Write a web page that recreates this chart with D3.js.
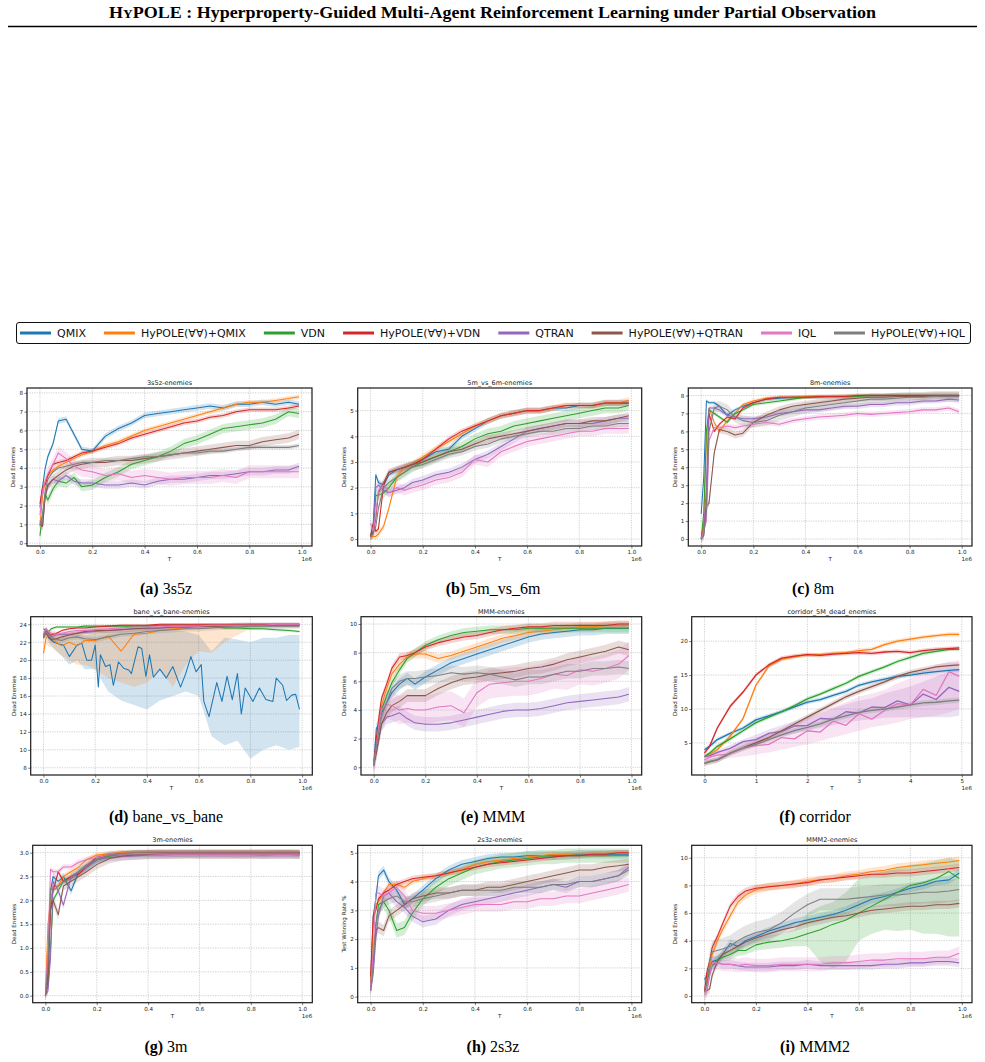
<!DOCTYPE html>
<html>
<head>
<meta charset="utf-8">
<script src="https://cdn.jsdelivr.net/npm/d3@7"></script>
<style>
  body { margin: 0; background: #fff; }
  svg { display: block; }
</style>
</head>
<body>
<div id="fig"></div>
<script>
// ---------------------------------------------------------
// DATA
// ---------------------------------------------------------
const methods = ["QMIX", "HyPOLE(∀∀)+QMIX", "VDN", "HyPOLE(∀∀)+VDN",
                 "QTRAN", "HyPOLE(∀∀)+QTRAN", "IQL", "HyPOLE(∀∀)+IQL"];
const colors  = ["#1f77b4", "#ff7f0e", "#2ca02c", "#d62728",
                 "#9467bd", "#8c564b", "#e377c2", "#7f7f7f"];

// training steps (x 1e6)
const T  = [0, 0.01, 0.02, 0.03, 0.05, 0.07, 0.1, 0.13, 0.16, 0.2, 0.25, 0.3, 0.35,
            0.4, 0.45, 0.5, 0.55, 0.6, 0.65, 0.7, 0.75, 0.8, 0.85, 0.9, 0.95, 0.99];
const T5 = [0, 0.1, 0.25, 0.5, 0.75, 1.0, 1.25, 1.5, 1.75, 2.0, 2.25, 2.5, 2.75,
            3.0, 3.25, 3.5, 3.75, 4.0, 4.25, 4.5, 4.75, 4.95];

// (a) 3s5z
const s3s5z = [
  [1.9, 3.0, 4.0, 4.6, 5.3, 6.5, 6.6, 5.8, 5.0, 4.9, 5.7, 6.1, 6.4, 6.8, 6.9, 7.0, 7.1, 7.2, 7.3, 7.2, 7.4, 7.4, 7.5, 7.4, 7.5, 7.4],
  [0.9, 2.5, 3.3, 3.6, 3.9, 4.1, 4.3, 4.5, 4.7, 4.9, 5.2, 5.4, 5.7, 6.0, 6.2, 6.4, 6.6, 6.8, 7.0, 7.2, 7.4, 7.5, 7.5, 7.6, 7.7, 7.8],
  [0.4, 1.5, 2.6, 2.3, 2.9, 3.3, 3.2, 3.5, 3.0, 3.1, 3.5, 3.8, 4.2, 4.4, 4.6, 4.9, 5.3, 5.5, 5.8, 6.1, 6.2, 6.3, 6.4, 6.6, 7.0, 6.9],
  [2.1, 3.0, 3.1, 3.6, 4.2, 4.3, 4.4, 4.6, 4.8, 4.9, 5.1, 5.3, 5.6, 5.8, 6.0, 6.2, 6.4, 6.5, 6.7, 6.8, 7.0, 7.1, 7.1, 7.1, 7.2, 7.3],
  [1.2, 0.9, 2.5, 3.0, 3.4, 3.3, 3.6, 3.3, 3.2, 3.2, 3.1, 3.1, 3.2, 3.1, 3.3, 3.4, 3.4, 3.5, 3.6, 3.6, 3.7, 3.8, 3.8, 3.9, 3.9, 4.1],
  [1.0, 0.9, 2.5, 3.1, 3.4, 3.6, 3.9, 4.1, 4.2, 4.3, 4.3, 4.4, 4.4, 4.5, 4.6, 4.7, 4.8, 4.9, 5.0, 5.1, 5.2, 5.2, 5.4, 5.5, 5.6, 5.8],
  [1.5, 2.8, 3.3, 3.7, 4.2, 4.8, 4.5, 4.1, 3.9, 3.8, 3.6, 3.7, 3.5, 3.6, 3.5, 3.4, 3.5, 3.5, 3.5, 3.6, 3.5, 3.8, 3.8, 3.8, 3.8, 3.8],
  [1.0, 1.5, 2.8, 3.4, 3.8, 4.0, 4.1, 4.2, 4.3, 4.3, 4.4, 4.4, 4.5, 4.6, 4.6, 4.7, 4.8, 4.8, 4.9, 4.9, 5.0, 5.1, 5.1, 5.1, 5.1, 5.2]
];
const spread3s5z = [0.15, 0.12, 0.25, 0.12, 0.2, 0.25, 0.35, 0.12];

// (b) 5m_vs_6m
const s5m6m = [
  [0.1, 0.6, 2.5, 2.2, 2.1, 2.5, 2.7, 2.8, 2.9, 3.1, 3.4, 3.5, 4.0, 4.3, 4.6, 4.8, 4.9, 5.0, 5.0, 5.1, 5.1, 5.2, 5.2, 5.3, 5.3, 5.3],
  [0.1, 0.1, 0.1, 0.2, 0.5, 1.2, 2.4, 2.8, 2.9, 3.2, 3.5, 3.8, 4.1, 4.4, 4.6, 4.8, 4.9, 5.0, 5.0, 5.1, 5.2, 5.2, 5.2, 5.3, 5.3, 5.4],
  [0.1, 0.3, 1.7, 1.7, 1.8, 2.0, 2.4, 2.6, 2.8, 3.0, 3.2, 3.4, 3.6, 3.9, 4.1, 4.2, 4.4, 4.5, 4.6, 4.7, 4.8, 4.9, 5.0, 5.1, 5.1, 5.2],
  [0.1, 0.6, 0.3, 0.4, 2.1, 2.6, 2.7, 2.8, 2.9, 3.1, 3.5, 3.9, 4.2, 4.4, 4.6, 4.8, 4.9, 5.0, 5.0, 5.1, 5.2, 5.2, 5.2, 5.3, 5.3, 5.3],
  [0.1, 0.2, 2.0, 2.1, 1.9, 1.8, 1.9, 2.0, 2.2, 2.3, 2.5, 2.6, 2.8, 3.1, 3.3, 3.6, 3.9, 4.2, 4.3, 4.4, 4.5, 4.5, 4.5, 4.6, 4.7, 4.7],
  [0.1, 0.3, 0.8, 1.8, 2.2, 2.6, 2.7, 2.8, 2.9, 3.0, 3.2, 3.4, 3.5, 3.7, 3.9, 4.0, 4.1, 4.2, 4.3, 4.4, 4.5, 4.5, 4.6, 4.6, 4.7, 4.8],
  [0.6, 0.3, 1.0, 1.9, 2.1, 1.8, 2.0, 1.9, 2.0, 2.1, 2.3, 2.4, 2.6, 3.1, 3.0, 3.4, 3.6, 3.8, 3.9, 4.0, 4.1, 4.2, 4.2, 4.3, 4.3, 4.3],
  [0.1, 0.2, 0.5, 1.2, 2.0, 2.2, 2.4, 2.6, 2.8, 2.9, 3.1, 3.3, 3.4, 3.6, 3.7, 3.9, 4.0, 4.1, 4.2, 4.2, 4.3, 4.3, 4.4, 4.4, 4.5, 4.5]
];
const spread5m6m = [0.12, 0.12, 0.2, 0.1, 0.15, 0.15, 0.2, 0.15];

// (c) 8m
const s8m = [
  [1.4, 3.5, 7.7, 7.6, 7.6, 7.4, 6.9, 7.2, 7.4, 7.6, 7.8, 7.85, 7.9, 7.9, 7.95, 7.95, 7.95, 8.0, 8.0, 8.0, 8.0, 8.0, 8.0, 8.0, 8.0, 8.0],
  [0.0, 1.0, 5.5, 7.3, 6.5, 6.0, 6.6, 7.0, 7.5, 7.7, 7.85, 7.9, 7.9, 7.95, 7.95, 7.95, 8.0, 8.0, 8.0, 8.0, 8.0, 8.0, 8.0, 8.0, 8.0, 8.0],
  [0.0, 1.5, 6.0, 7.2, 7.0, 6.8, 6.5, 7.0, 7.2, 7.5, 7.6, 7.7, 7.8, 7.9, 7.9, 7.95, 7.95, 7.95, 8.0, 8.0, 8.0, 8.0, 8.0, 8.0, 8.0, 8.0],
  [0.0, 0.6, 2.0, 7.0, 6.0, 6.4, 6.8, 6.7, 7.3, 7.6, 7.8, 7.9, 7.9, 7.9, 7.95, 7.95, 7.95, 8.0, 8.0, 8.0, 8.0, 8.0, 8.0, 8.0, 8.0, 8.0],
  [0.0, 0.4, 3.0, 7.3, 7.3, 7.2, 6.9, 6.8, 6.7, 6.7, 6.8, 7.0, 7.1, 7.2, 7.2, 7.3, 7.4, 7.4, 7.5, 7.5, 7.6, 7.6, 7.7, 7.7, 7.8, 7.75],
  [0.0, 0.2, 1.8, 2.0, 4.8, 6.1, 6.0, 5.8, 5.9, 6.5, 6.9, 7.2, 7.4, 7.5, 7.6, 7.7, 7.8, 7.85, 7.9, 7.9, 7.95, 7.95, 7.95, 8.0, 8.0, 8.0],
  [0.0, 0.5, 1.0, 5.5, 6.2, 6.2, 6.3, 6.2, 6.3, 6.4, 6.5, 6.4, 6.6, 6.7, 6.8, 6.85, 6.9, 7.0, 6.95, 7.0, 7.05, 7.1, 7.2, 7.2, 7.3, 7.1],
  [0.0, 0.3, 1.5, 6.0, 7.3, 7.4, 7.2, 6.8, 6.6, 6.5, 6.6, 6.9, 7.1, 7.3, 7.4, 7.5, 7.6, 7.7, 7.8, 7.8, 7.85, 7.9, 7.9, 7.95, 7.95, 7.95]
];
const spread8m = [0.1, 0.1, 0.1, 0.1, 0.15, 0.2, 0.15, 0.3];

// (d) bane_vs_bane  (QMIX is logged more densely)
const baneQmixT = [0, 0.01, 0.02, 0.04, 0.06, 0.077, 0.1, 0.13, 0.148, 0.167, 0.186, 0.2, 0.212, 0.22, 0.24,
                   0.257, 0.27, 0.29, 0.31, 0.33, 0.34, 0.366, 0.38, 0.396, 0.41, 0.425, 0.45, 0.475, 0.5,
                   0.53, 0.55, 0.57, 0.59, 0.61, 0.62, 0.64, 0.67, 0.69, 0.71, 0.73, 0.75, 0.765, 0.78,
                   0.81, 0.835, 0.86, 0.887, 0.9, 0.925, 0.94, 0.96, 0.975, 0.99];
const baneQmix  = [22.8, 23.2, 22.5, 22.0, 21.8, 21.7, 20.4, 21.7, 21.9, 20.0, 20.0, 21.7, 17.0, 20.6, 19.3,
                   19.5, 17.2, 19.8, 19.1, 18.9, 18.5, 21.5, 21.3, 18.2, 20.6, 18.1, 19.0, 18.0, 19.3,
                   17.0, 18.5, 20.4, 18.7, 19.5, 15.4, 13.7, 17.5, 15.4, 18.2, 15.6, 18.5, 14.0, 16.9,
                   15.4, 16.9, 15.6, 15.4, 18.0, 17.2, 15.5, 16.1, 16.2, 14.5];
const baneQmixLo = [22.3, 22.6, 22.0, 21.6, 21.0, 20.5, 19.5, 20.0, 19.0, 19.0, 16.5, 15.5, 15.0, 14.5, 15.5, 16.0, 16.5, 16.0, 11.5, 10.5, 11.0, 9.0, 10.0, 10.5, 10.0, 10.3];
const baneQmixHi = [23.3, 23.7, 23.2, 22.6, 22.5, 22.6, 22.5, 22.8, 22.8, 23.0, 23.2, 23.2, 23.3, 23.3, 23.4, 23.4, 23.2, 22.8, 21.0, 22.5, 22.3, 22.0, 22.5, 22.5, 22.8, 22.8];
const baneHyQmixLo = [20.0, 21.8, 21.5, 21.5, 21.0, 20.5, 20.0, 19.5, 19.5, 19.0, 18.0, 17.5, 17.0, 17.5, 19.0, 17.0, 19.5, 21.0, 20.8, 22.0, 22.8, 23.5, 23.7, 23.8, 23.8, 23.8];
const baneHyQmixHi = [21.8, 23.3, 23.3, 23.3, 23.2, 23.0, 23.2, 23.2, 23.4, 23.5, 23.7, 23.8, 23.8, 23.9, 24.0, 24.0, 24.0, 24.0, 24.0, 24.0, 24.0, 24.1, 24.1, 24.1, 24.1, 24.1];
const sBane = [
  null,
  [20.8, 22.5, 22.8, 22.4, 22.0, 21.6, 22.0, 21.6, 22.2, 22.2, 22.7, 21.0, 22.9, 23.0, 23.3, 23.5, 23.6, 23.7, 23.8, 23.9, 23.9, 24.0, 24.0, 24.0, 24.0, 24.0],
  [23.5, 23.3, 23.2, 23.5, 23.7, 23.7, 23.7, 23.7, 23.8, 23.8, 23.8, 23.8, 23.8, 23.8, 23.9, 23.9, 23.9, 23.8, 23.8, 23.6, 23.6, 23.5, 23.5, 23.4, 23.3, 23.2],
  [22.5, 23.4, 23.0, 22.8, 23.0, 23.3, 23.5, 23.6, 23.6, 23.7, 23.8, 23.9, 23.9, 23.9, 24.0, 24.0, 24.0, 24.0, 24.0, 24.0, 24.0, 24.0, 24.0, 24.0, 24.0, 24.0],
  [22.8, 23.5, 23.0, 22.6, 22.8, 22.9, 22.9, 23.0, 23.1, 23.2, 23.3, 23.4, 23.5, 23.5, 23.6, 23.7, 23.7, 23.8, 23.8, 23.8, 23.9, 23.9, 23.9, 23.9, 23.9, 23.9],
  [22.6, 23.0, 22.6, 22.3, 22.4, 22.6, 22.8, 23.0, 23.2, 23.3, 23.3, 23.4, 23.5, 23.6, 23.6, 23.7, 23.7, 23.8, 23.8, 23.8, 23.9, 23.9, 23.9, 23.9, 23.9, 23.9],
  [23.0, 23.5, 23.2, 23.0, 22.9, 23.0, 23.2, 23.3, 23.3, 23.4, 23.5, 23.6, 23.7, 23.7, 23.7, 23.8, 23.8, 23.8, 23.9, 23.9, 23.9, 23.9, 23.9, 24.0, 24.0, 24.0],
  [22.5, 23.2, 22.8, 22.5, 22.3, 22.2, 22.5, 22.6, 22.4, 22.3, 22.6, 22.9, 23.0, 23.2, 23.3, 23.4, 23.5, 23.5, 23.6, 23.7, 23.7, 23.8, 23.8, 23.8, 23.8, 23.8]
];
const spreadBane = [0, 0, 0.15, 0.1, 0.2, 0.3, 0.2, 0.3];

// (e) MMM
const sMMM = [
  [0.3, 2.7, 3.0, 3.8, 4.5, 5.2, 5.8, 6.2, 5.8, 6.3, 6.8, 7.3, 7.6, 7.9, 8.2, 8.5, 8.8, 9.1, 9.3, 9.4, 9.5, 9.6, 9.6, 9.7, 9.7, 9.7],
  [0.2, 1.8, 3.0, 4.3, 5.5, 6.5, 7.2, 7.7, 7.9, 7.9, 7.6, 7.8, 8.1, 8.4, 8.7, 9.0, 9.2, 9.4, 9.5, 9.6, 9.7, 9.8, 9.8, 9.9, 9.9, 9.9],
  [0.1, 1.5, 3.0, 4.0, 5.0, 5.9, 6.8, 7.6, 8.0, 8.5, 8.9, 9.2, 9.4, 9.5, 9.6, 9.6, 9.6, 9.7, 9.7, 9.7, 9.7, 9.7, 9.7, 9.7, 9.7, 9.7],
  [0.2, 2.0, 3.5, 4.8, 5.8, 6.9, 7.7, 7.8, 8.0, 8.4, 8.7, 8.9, 9.1, 9.2, 9.4, 9.6, 9.7, 9.8, 9.8, 9.9, 9.9, 9.9, 9.9, 9.9, 10.0, 10.0],
  [0.1, 1.0, 2.0, 3.0, 3.5, 3.6, 3.8, 3.4, 3.1, 3.0, 3.0, 3.1, 3.3, 3.5, 3.7, 3.9, 4.0, 4.0, 4.1, 4.3, 4.5, 4.6, 4.7, 4.8, 4.9, 5.1],
  [0.2, 1.0, 2.0, 3.0, 3.8, 4.3, 4.6, 5.0, 5.0, 5.0, 5.5, 5.9, 6.2, 6.3, 6.5, 6.6, 6.7, 6.9, 7.0, 7.2, 7.5, 7.7, 7.9, 8.1, 8.4, 8.2],
  [0.2, 1.5, 3.0, 4.0, 4.4, 4.3, 4.0, 4.1, 4.0, 4.0, 4.2, 4.3, 3.8, 5.2, 5.8, 5.9, 6.0, 6.0, 6.2, 6.5, 6.4, 6.8, 6.7, 6.9, 7.2, 7.8],
  [0.2, 1.5, 2.5, 3.5, 4.5, 5.5, 6.0, 6.2, 6.2, 6.3, 6.4, 6.6, 6.5, 6.6, 6.5, 6.3, 6.1, 6.3, 6.3, 6.5, 6.7, 6.7, 6.9, 6.9, 7.0, 6.9]
];
const spreadMMM = [0.4, 0.3, 0.3, 0.25, 0.5, 0.45, 1.0, 0.5];

// (f) corridor (x 5e6 steps)
const sCorridor = [
  [4.0, 4.5, 5.5, 6.4, 7.2, 8.4, 9.0, 9.6, 10.3, 11.0, 11.4, 12.0, 12.6, 13.5, 14.0, 14.4, 14.8, 15.0, 15.3, 15.5, 15.7, 15.8],
  [3.0, 3.3, 4.0, 6.0, 8.6, 13.5, 16.3, 17.3, 17.7, 18.0, 18.0, 18.2, 18.3, 18.6, 18.8, 19.5, 20.0, 20.3, 20.6, 20.8, 21.0, 21.0],
  [3.0, 3.5, 4.5, 5.6, 6.8, 8.0, 8.8, 9.6, 10.5, 11.5, 12.2, 13.0, 13.8, 14.8, 15.5, 16.2, 17.0, 17.6, 18.2, 18.5, 18.8, 18.8],
  [3.5, 4.5, 7.2, 10.4, 12.5, 15.0, 16.5, 17.5, 17.8, 18.0, 17.9, 18.1, 18.2, 18.3, 18.2, 18.4, 18.5, 18.3, 18.6, 18.8, 18.9, 19.0],
  [3.0, 3.1, 3.6, 4.2, 5.2, 5.5, 6.4, 6.7, 7.5, 7.6, 8.6, 8.5, 9.6, 9.4, 10.3, 10.2, 11.2, 10.6, 12.2, 11.4, 13.2, 12.6],
  [2.0, 2.2, 2.5, 3.5, 4.3, 5.0, 5.8, 6.8, 7.8, 8.8, 9.8, 10.8, 11.8, 12.6, 13.3, 14.0, 14.8, 15.4, 15.8, 16.2, 16.4, 16.5],
  [2.5, 2.9, 3.2, 3.4, 4.3, 4.6, 4.8, 5.8, 5.6, 6.8, 6.6, 8.2, 7.6, 9.3, 8.5, 9.8, 10.8, 10.6, 12.9, 12.0, 15.5, 14.8],
  [2.0, 2.3, 2.5, 3.5, 4.2, 4.8, 5.5, 6.2, 6.8, 7.3, 7.8, 8.5, 9.0, 9.5, 9.8, 10.0, 10.3, 10.6, 10.9, 11.0, 11.2, 11.3]
];
const spreadCorridor = [0.3, 0.3, 0.3, 0.3, 0, 0.4, 0, 0.4];
const corrQtranLo = [2.8, 2.8, 3.2, 3.8, 4.5, 5.0, 5.5, 6.0, 6.4, 6.8, 7.2, 7.6, 8.0, 8.3, 8.5, 8.7, 8.8, 8.8, 8.8, 8.8, 8.8, 9.0];
const corrQtranHi = [3.2, 3.4, 3.9, 4.7, 5.5, 6.2, 7.0, 7.6, 8.2, 8.8, 9.5, 10.1, 10.7, 11.2, 11.6, 12.3, 12.8, 13.3, 14.0, 14.8, 15.5, 16.0];
const corrIqlLo = [2.2, 2.3, 2.5, 2.8, 3.0, 3.3, 3.6, 4.0, 4.4, 4.8, 5.3, 5.8, 6.3, 6.8, 7.3, 7.6, 8.0, 8.5, 8.8, 9.0, 9.5, 10.0];
const corrIqlHi = [2.8, 3.3, 3.6, 4.2, 5.0, 5.8, 6.5, 7.0, 7.8, 8.5, 9.3, 10.3, 11.0, 11.8, 12.3, 12.8, 13.8, 14.5, 15.5, 16.5, 17.0, 17.2];

// (g) 3m
const s3m = [
  [0, 0.5, 2.2, 2.5, 2.4, 2.5, 2.2, 2.6, 2.7, 2.85, 2.95, 2.97, 2.98, 2.98, 2.98, 2.98, 2.98, 2.98, 2.98, 2.98, 2.97, 2.98, 2.98, 2.98, 2.98, 2.97],
  [0, 1.5, 2.0, 2.3, 2.3, 2.5, 2.6, 2.7, 2.85, 2.95, 2.98, 3.0, 3.0, 3.0, 3.0, 3.0, 3.0, 3.0, 3.0, 3.0, 3.0, 3.0, 3.0, 3.0, 3.0, 3.0],
  [0, 0.2, 1.0, 2.0, 2.2, 2.4, 2.5, 2.6, 2.7, 2.85, 2.93, 2.97, 2.98, 2.98, 2.98, 2.97, 2.97, 2.97, 2.98, 2.97, 2.98, 2.97, 2.97, 2.98, 2.98, 2.98],
  [0, 0.5, 1.8, 2.2, 2.6, 2.4, 2.5, 2.55, 2.7, 2.9, 2.95, 2.98, 2.99, 3.0, 3.0, 3.0, 3.0, 3.0, 3.0, 3.0, 3.0, 3.0, 3.0, 3.0, 3.0, 3.0],
  [0, 0.1, 0.8, 2.4, 2.2, 1.9, 2.5, 2.6, 2.7, 2.85, 2.9, 2.92, 2.93, 2.95, 2.95, 2.96, 2.97, 2.96, 2.96, 2.96, 2.96, 2.96, 2.95, 2.96, 2.96, 2.95],
  [0, 0.3, 1.8, 2.0, 1.7, 2.3, 2.4, 2.5, 2.6, 2.75, 2.88, 2.93, 2.95, 2.96, 2.97, 2.97, 2.97, 2.97, 2.97, 2.97, 2.97, 2.97, 2.97, 2.97, 2.97, 2.97],
  [0, 1.0, 2.65, 2.6, 2.6, 2.7, 2.7, 2.8, 2.85, 2.9, 2.95, 2.97, 2.98, 2.98, 2.97, 2.97, 2.97, 2.97, 2.97, 2.97, 2.97, 2.97, 2.97, 2.97, 2.97, 2.97],
  [0, 0.7, 2.25, 2.2, 2.3, 2.4, 2.45, 2.6, 2.75, 2.85, 2.95, 2.98, 3.0, 3.0, 3.0, 3.0, 3.0, 3.0, 3.0, 3.0, 3.0, 3.0, 3.0, 3.0, 3.0, 3.0]
];
const spread3m = [0.08, 0.06, 0.06, 0.05, 0.08, 0.1, 0.06, 0.05];

// (h) 2s3z
const s2s3z = [
  [0.5, 2.8, 3.4, 4.2, 4.4, 4.0, 3.7, 3.2, 3.4, 3.7, 4.1, 4.4, 4.6, 4.7, 4.8, 4.85, 4.85, 4.9, 4.9, 4.9, 4.9, 4.95, 4.95, 4.95, 4.95, 4.95],
  [0.5, 2.5, 3.2, 3.3, 3.6, 3.9, 3.9, 3.8, 4.0, 4.1, 4.2, 4.3, 4.4, 4.6, 4.7, 4.75, 4.8, 4.85, 4.9, 4.95, 4.95, 4.97, 4.97, 4.98, 4.98, 4.98],
  [0.3, 1.0, 2.5, 3.2, 3.3, 3.0, 2.3, 2.4, 2.9, 3.4, 3.8, 4.1, 4.3, 4.5, 4.6, 4.7, 4.75, 4.8, 4.85, 4.85, 4.9, 4.9, 4.9, 4.9, 4.9, 4.9],
  [0.7, 2.8, 3.0, 3.4, 3.6, 3.7, 3.9, 4.0, 4.1, 4.15, 4.2, 4.3, 4.4, 4.5, 4.6, 4.65, 4.7, 4.75, 4.8, 4.85, 4.9, 4.9, 4.95, 4.95, 5.0, 5.0],
  [0.2, 0.8, 2.0, 2.8, 3.5, 3.6, 3.3, 3.1, 2.8, 2.6, 2.7, 3.0, 3.2, 3.3, 3.4, 3.5, 3.6, 3.7, 3.8, 3.9, 3.8, 4.0, 4.0, 4.1, 4.2, 4.5],
  [0.3, 1.5, 2.3, 2.4, 2.3, 2.8, 3.0, 3.2, 3.4, 3.5, 3.6, 3.6, 3.7, 3.7, 3.8, 3.8, 3.9, 4.0, 4.1, 4.2, 4.3, 4.4, 4.4, 4.5, 4.55, 4.6],
  [0.3, 1.5, 3.6, 3.6, 3.5, 3.6, 3.8, 3.5, 3.0, 2.9, 2.9, 3.0, 3.1, 3.2, 3.2, 3.2, 3.3, 3.3, 3.4, 3.4, 3.5, 3.5, 3.6, 3.7, 3.8, 3.9],
  [0.2, 1.0, 2.5, 3.0, 3.3, 3.4, 3.5, 3.3, 3.3, 3.4, 3.5, 3.6, 3.7, 3.7, 3.7, 3.7, 3.8, 3.8, 3.8, 3.9, 3.9, 4.0, 4.0, 4.1, 4.2, 4.4]
];
const spread2s3z = [0.15, 0.1, 0.25, 0.1, 0.2, 0.2, 0.25, 0.2];

// (i) MMM2
const sMMM2 = [
  [1.2, 1.5, 2.0, 2.5, 2.6, 3.0, 3.8, 3.6, 4.0, 4.3, 4.7, 5.0, 5.3, 5.5, 5.7, 5.9, 6.2, 6.6, 7.0, 7.2, 7.5, 7.8, 8.0, 8.3, 8.4, 8.9],
  [0.3, 1.2, 2.0, 3.0, 4.0, 4.8, 5.8, 6.8, 7.3, 7.7, 7.9, 8.0, 8.1, 8.3, 8.4, 8.5, 8.7, 8.8, 9.0, 9.1, 9.3, 9.4, 9.5, 9.6, 9.7, 9.8],
  [0.3, 1.0, 1.8, 2.2, 2.6, 2.8, 3.0, 3.3, 3.3, 3.7, 3.9, 4.0, 4.2, 4.5, 4.8, 5.2, 5.5, 6.0, 6.5, 7.0, 7.5, 8.0, 8.2, 8.5, 9.0, 8.5],
  [0.3, 1.8, 2.5, 3.5, 4.3, 5.2, 6.5, 7.2, 7.6, 7.8, 7.9, 8.0, 8.1, 8.2, 8.4, 8.5, 8.6, 8.7, 8.8, 8.8, 8.9, 8.9, 9.0, 9.1, 9.2, 9.3],
  [0.3, 0.5, 1.5, 2.2, 2.4, 2.3, 2.3, 2.2, 2.1, 2.1, 2.1, 2.2, 2.2, 2.3, 2.2, 2.2, 2.2, 2.2, 2.2, 2.3, 2.3, 2.4, 2.4, 2.5, 2.5, 2.4],
  [0.3, 0.4, 0.5, 1.5, 2.5, 3.0, 3.3, 3.6, 3.9, 4.2, 4.5, 4.8, 5.0, 5.3, 5.5, 5.7, 5.8, 6.0, 6.2, 6.3, 6.4, 6.5, 6.5, 6.6, 6.6, 6.7],
  [0.2, 0.5, 1.5, 2.4, 2.4, 2.3, 2.3, 2.2, 2.3, 2.2, 2.2, 2.3, 2.3, 2.3, 2.3, 2.4, 2.4, 2.5, 2.6, 2.6, 2.7, 2.7, 2.7, 2.8, 2.8, 3.1],
  [0.3, 1.0, 2.5, 3.2, 3.3, 3.4, 3.6, 4.0, 4.3, 4.6, 4.8, 5.3, 6.0, 6.6, 7.0, 7.0, 7.0, 7.1, 7.2, 7.3, 7.3, 7.4, 7.5, 7.5, 7.6, 7.7]
];
const spreadMMM2 = [0.3, 0.3, 0, 0.25, 0.3, 0.3, 0.5, 0.8];
const mmm2VdnLo = [0.2, 0.7, 1.5, 1.9, 2.2, 2.5, 2.6, 2.9, 3.0, 3.3, 3.4, 3.5, 3.6, 3.6, 2.5, 2.0, 2.5, 4.0, 4.5, 4.8, 4.7, 4.8, 4.5, 4.5, 4.3, 4.3];
const mmm2VdnHi = [0.4, 1.3, 2.1, 2.5, 3.0, 3.1, 3.4, 3.7, 3.7, 4.1, 4.4, 4.5, 4.8, 6.0, 6.5, 6.8, 7.5, 8.5, 8.8, 9.0, 9.3, 9.5, 9.6, 9.8, 10.0, 9.8];

const ticks01 = [0, 0.2, 0.4, 0.6, 0.8, 1.0];

// ---------------------------------------------------------
// SVG
// ---------------------------------------------------------
const W = 985, H = 1062;
const svg = d3.select("#fig").append("svg")
    .attr("width", W).attr("height", H)
    .style("background", "#fff");

// header (small-caps "HyPOLE"), stretched to the span of the original line
const head = svg.append("text")
    .attr("x", 109).attr("y", 18)
    .attr("textLength", 767)
    .attr("lengthAdjust", "spacingAndGlyphs")
    .style("font-family", "'Liberation Serif', 'Times New Roman', serif")
    .style("font-weight", "bold")
    .style("font-size", "16.6px")
    .style("fill", "#000");
head.append("tspan").text("H");
head.append("tspan").style("font-size", "12.4px").text("Y");
head.append("tspan").text("POLE : Hyperproperty-Guided Multi-Agent Reinforcement Learning under Partial Observation");

svg.append("line")
    .attr("x1", 8).attr("x2", 977).attr("y1", 26.5).attr("y2", 26.5)
    .attr("stroke", "#000").attr("stroke-width", 1.6);

// ---------------------------------------------------------
// LEGEND
// ---------------------------------------------------------
const legBox = { x: 16, y: 322, w: 954, h: 21 };
const gLeg = svg.append("g");
gLeg.append("rect")
    .attr("x", legBox.x + 0.5).attr("y", legBox.y + 0.5)
    .attr("width", legBox.w).attr("height", legBox.h)
    .attr("rx", 2.5)
    .attr("fill", "#fff").attr("stroke", "#111").attr("stroke-width", 1);

const swatchW = 31, swatchPad = 6;
const legItems = methods.map((m, i) => {
  const g = gLeg.append("g");
  g.append("line").attr("x1", 0).attr("x2", swatchW)
    .attr("stroke", colors[i]).attr("stroke-width", 3);
  const t = g.append("text").attr("x", swatchW + swatchPad).attr("y", 4)
    .style("font-family", "'DejaVu Sans', sans-serif")
    .style("font-size", "11px").style("fill", "#111").text(m);
  return { g, w: swatchW + swatchPad + t.node().getComputedTextLength() };
});
{
  const inner = legBox.w - 9;
  const used = d3.sum(legItems, d => d.w);
  const gap = (inner - used) / (legItems.length - 1);
  let cx = legBox.x + 4;
  const cy = legBox.y + legBox.h / 2 + 0.5;
  legItems.forEach(it => {
    it.g.attr("transform", `translate(${cx},${cy})`);
    cx += it.w + gap;
  });
}

// ---------------------------------------------------------
// PANELS
// ---------------------------------------------------------
const fmt1 = d3.format(".1f");
const fmt0 = d3.format("d");

const panels = [
  { title: "3s5z-enemies", ylabel: "Dead Enemies", box: [27, 312, 388, 546],
    ydom: [-0.15, 8.26], yticks: d3.range(0, 9), yfmt: fmt0,
    t: T, series: s3s5z, spread: spread3s5z, cap: ["(a)", "3s5z"], capX: 166, capY: 594 },
  { title: "5m_vs_6m-enemies", ylabel: "Dead Enemies", box: [357.7, 641.7, 388, 546],
    ydom: [-0.27, 5.88], yticks: d3.range(0, 6), yfmt: fmt0,
    t: T, series: s5m6m, spread: spread5m6m, cap: ["(b)", "5m_vs_6m"], capX: 493, capY: 594 },
  { title: "8m-enemies", ylabel: "Dead Enemies", box: [688.3, 972, 388, 546],
    ydom: [-0.39, 8.42], yticks: d3.range(0, 9), yfmt: fmt0,
    t: T, series: s8m, spread: spread8m, cap: ["(c)", "8m"], capX: 813, capY: 594 },
  { title: "bane_vs_bane-enemies", ylabel: "Dead Enemies", box: [30.7, 312.3, 616.7, 775],
    ydom: [7.19, 24.85], yticks: d3.range(8, 25, 2), yfmt: fmt0,
    t: T, series: sBane, spread: spreadBane,
    custom: { 0: { t: baneQmixT, y: baneQmix } },
    bands: { 0: { lo: baneQmixLo, hi: baneQmixHi }, 1: { lo: baneHyQmixLo, hi: baneHyQmixHi } },
    cap: ["(d)", "bane_vs_bane"], capX: 166, capY: 822 },
  { title: "MMM-enemies", ylabel: "Dead Enemies", box: [361, 641.7, 616.7, 775],
    ydom: [-0.54, 10.51], yticks: d3.range(0, 11, 2), yfmt: fmt0,
    t: T, series: sMMM, spread: spreadMMM, cap: ["(e)", "MMM"], capX: 493, capY: 822 },
  { title: "corridor_5M_dead_enemies", ylabel: "Dead Enemies", box: [691.7, 972, 616.7, 775],
    ydom: [0.28, 23.6], yticks: [5, 10, 15, 20], yfmt: fmt0,
    xdom: [-0.2475, 5.1975], xticks: d3.range(0, 6), xfmt: fmt0, lw: 1.3,
    t: T5, series: sCorridor, spread: spreadCorridor,
    bands: { 4: { lo: corrQtranLo, hi: corrQtranHi }, 6: { lo: corrIqlLo, hi: corrIqlHi } },
    cap: ["(f)", "corridor"], capX: 815, capY: 822 },
  { title: "3m-enemies", ylabel: "Dead Enemies", box: [32.7, 312.3, 845.3, 1002.7],
    ydom: [-0.147, 3.155], yticks: d3.range(0, 3.01, 0.5), yfmt: fmt1,
    t: T, series: s3m, spread: spread3m, cap: ["(g)", "3m"], capX: 166, capY: 1052 },
  { title: "2s3z-enemies", ylabel: "Test Winning Rate %", box: [357.7, 641.7, 845.3, 1002.7],
    ydom: [-0.21, 5.26], yticks: d3.range(0, 6), yfmt: fmt0,
    t: T, series: s2s3z, spread: spread2s3z, cap: ["(h)", "2s3z"], capX: 493, capY: 1052 },
  { title: "MMM2-enemies", ylabel: "Dead Enemies", box: [691.7, 972, 845.3, 1002.7],
    ydom: [-0.48, 10.9], yticks: d3.range(0, 11, 2), yfmt: fmt0,
    t: T, series: sMMM2, spread: spreadMMM2,
    bands: { 2: { lo: mmm2VdnLo, hi: mmm2VdnHi } },
    cap: ["(i)", "MMM2"], capX: 815, capY: 1052 }
];

const sans = "'DejaVu Sans', sans-serif";

panels.forEach((p, pi) => {
  const [L, R, Tp, B] = p.box;
  const x = d3.scaleLinear().domain(p.xdom || [-0.0495, 1.0395]).range([L, R]);
  const y = d3.scaleLinear().domain(p.ydom).range([B, Tp]);
  const xticks = p.xticks || ticks01;
  const xfmt = p.xfmt || fmt1;
  const g = svg.append("g");

  const clipId = "clip" + pi;
  g.append("clipPath").attr("id", clipId)
    .append("rect").attr("x", L).attr("y", Tp).attr("width", R - L).attr("height", B - Tp);

  // grid
  const grid = g.append("g");
  xticks.forEach(v => grid.append("line")
    .attr("x1", x(v)).attr("x2", x(v)).attr("y1", Tp).attr("y2", B));
  p.yticks.forEach(v => grid.append("line")
    .attr("x1", L).attr("x2", R).attr("y1", y(v)).attr("y2", y(v)));
  grid.selectAll("line")
    .attr("stroke", "#b0b0b0").attr("stroke-width", 0.6)
    .attr("stroke-dasharray", "1.2,1.2");

  const plot = g.append("g").attr("clip-path", `url(#${clipId})`);

  // bands
  p.series.forEach((ys, i) => {
    let lo, hi, bt = p.t;
    if (p.bands && p.bands[i]) { lo = p.bands[i].lo; hi = p.bands[i].hi; }
    else if (ys && p.spread[i] > 0) {
      lo = ys.map(v => v - p.spread[i]);
      hi = ys.map(v => v + p.spread[i]);
    }
    if (!lo) return;
    const area = d3.area()
      .x((d, k) => x(bt[k]))
      .y0((d, k) => y(lo[k]))
      .y1((d, k) => y(hi[k]));
    plot.append("path").attr("d", area(lo))
      .attr("fill", colors[i]).attr("fill-opacity", 0.2).attr("stroke", "none");
  });

  // lines
  p.series.forEach((ys, i) => {
    let tt = p.t, vv = ys;
    if (p.custom && p.custom[i]) { tt = p.custom[i].t; vv = p.custom[i].y; }
    const line = d3.line().x((d, k) => x(tt[k])).y(d => y(d));
    plot.append("path").attr("d", line(vv))
      .attr("fill", "none").attr("stroke", colors[i])
      .attr("stroke-width", p.lw || 1.05).attr("stroke-linejoin", "round");
  });

  // frame
  g.append("rect").attr("x", L).attr("y", Tp)
    .attr("width", R - L).attr("height", B - Tp)
    .attr("fill", "none").attr("stroke", "#1a1a1a").attr("stroke-width", 1.2);

  // axes
  const xa = g.append("g").attr("transform", `translate(0,${B})`)
    .call(d3.axisBottom(x).tickValues(xticks).tickFormat(xfmt).tickSize(2.5).tickPadding(1.5));
  const ya = g.append("g").attr("transform", `translate(${L},0)`)
    .call(d3.axisLeft(y).tickValues(p.yticks).tickFormat(p.yfmt).tickSize(2.5).tickPadding(1.5));
  [xa, ya].forEach(a => {
    a.select(".domain").remove();
    a.selectAll("line").attr("stroke", "#222").attr("stroke-width", 0.6);
    a.selectAll("text").style("font-family", sans).style("font-size", "5.6px").attr("fill", "#222");
  });

  // title, labels
  g.append("text").attr("x", (L + R) / 2).attr("y", Tp - 3)
    .attr("text-anchor", "middle")
    .style("font-family", sans).style("font-size", "6.5px").style("fill", "#222")
    .text(p.title);
  g.append("text").attr("x", (L + R) / 2).attr("y", B + 15)
    .attr("text-anchor", "middle")
    .style("font-family", sans).style("font-size", "5.6px").style("fill", "#222")
    .text("T");
  g.append("text").attr("x", R).attr("y", B + 15)
    .attr("text-anchor", "end")
    .style("font-family", sans).style("font-size", "5.6px").style("fill", "#222")
    .text("1e6");
  const yb = ya.node().getBBox();
  const ylx = L + yb.x - 4;
  g.append("text")
    .attr("transform", `translate(${ylx},${(Tp + B) / 2}) rotate(-90)`)
    .attr("text-anchor", "middle")
    .style("font-family", sans).style("font-size", "5.6px").style("fill", "#222")
    .text(p.ylabel);

  // caption
  const cap = svg.append("text").attr("x", p.capX).attr("y", p.capY)
    .attr("text-anchor", "middle")
    .style("font-family", "'Liberation Serif', 'Times New Roman', serif")
    .style("font-size", "16px").style("fill", "#000");
  cap.append("tspan").style("font-weight", "bold").text(p.cap[0]);
  cap.append("tspan").text(" " + p.cap[1]);
});
</script>
</body>
</html>
